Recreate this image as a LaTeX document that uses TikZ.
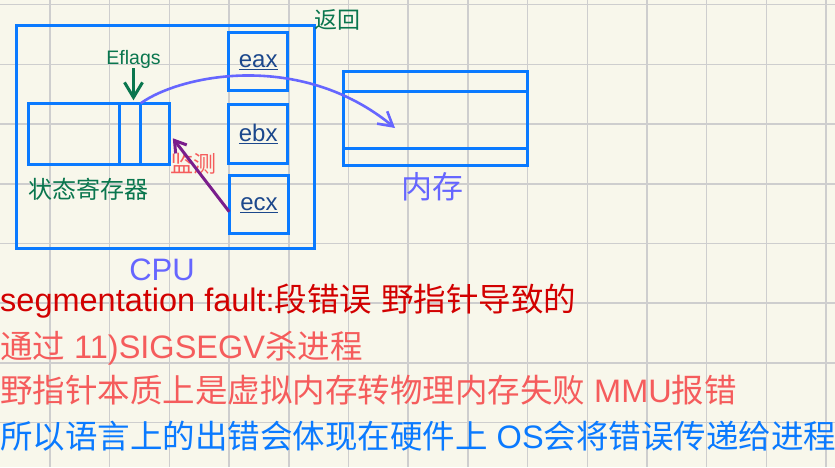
\documentclass[tikz,border=0pt]{standalone}
\usepackage{fontspec}
\setmainfont{Liberation Sans}
\newfontfamily\cjk{Noto Sans CJK SC}
\usetikzlibrary{arrows.meta}
\definecolor{paper}{RGB}{248,247,235}
\definecolor{gridgray}{RGB}{206,206,206}
\definecolor{boxblue}{RGB}{10,122,255}
\definecolor{regtext}{RGB}{28,72,140}
\definecolor{flaggreen}{RGB}{10,118,78}
\definecolor{memviolet}{RGB}{102,102,255}
\definecolor{watchred}{RGB}{245,92,92}
\definecolor{watchpurple}{RGB}{122,30,140}
\definecolor{faultred}{RGB}{210,0,0}
\begin{document}
\begin{tikzpicture}[x=1pt,y=-1pt,
  box/.style={draw=boxblue, line width=3pt, inner sep=0pt, outer sep=0pt},
  reg/.style={box, text=regtext, font=\fontsize{24}{24}\selectfont},
  txt/.style={inner sep=0pt, font=\fontsize{#1}{#1}\selectfont},
  gridline/.style={draw=gridgray, line width=1.5pt}]
\useasboundingbox (0,0) rectangle (835,467);
\fill[paper] (0,0) rectangle (835,467);
\foreach \i in {0,...,13} \draw[gridline] ({50+59.7*\i},0) -- ({50+59.7*\i},467);
\foreach \j in {0,...,7} \draw[gridline] (0,{4.7+59.7*\j}) -- (835,{4.7+59.7*\j});
% cpu and its registers
\node[box, minimum width=298, minimum height=223] (cpu) at (165,136.5) {};
\node[box, minimum width=91.3, minimum height=60.7] (regA) at (73.65,133.65) {};
\node[box, minimum width=21.4, minimum height=60.7] (regB) at (130,133.65) {};
\node[box, minimum width=28.6, minimum height=60.7] (regC) at (155,133.65) {};
\node[reg, minimum width=59, minimum height=58.3] (eax) at (258.2,61.8) {\underline{eax}};
\node[reg, minimum width=59, minimum height=59] (ebx) at (258.2,133.8) {\underline{ebx}};
\node[reg, minimum width=59.4, minimum height=58.3] (ecx) at (259,204.8) {\underline{ecx}};
% memory
\node[box, minimum width=184.4, minimum height=19.3] (memTop) at (435.5,81.35) {};
\node[box, minimum width=184.4, minimum height=57.3] (memMid) at (435.5,119.65) {};
\node[box, minimum width=184.4, minimum height=17.4] (memBot) at (435.5,157) {};
\coordinate (tip) at (395,128);
% labels
\node[txt=19.5, text=flaggreen, anchor=base] (eflags) at (133.5,64) {Eflags};
\node[txt=24, text=flaggreen, anchor=base west] (status) at (28,198) {\cjk 状态寄存器};
\node[txt=23, text=watchred, anchor=base west] (watch) at (170,172) {\cjk 监测};
\node[txt=31, text=memviolet, anchor=base west] (memlabel) at (401,198) {\cjk 内存};
\node[txt=23, text=flaggreen, anchor=base west] (back) at (314,28) {\cjk 返回};
\node[txt=31, text=memviolet, anchor=base] (cpulabel) at (162,280) {CPU};
% arrows
\draw[flaggreen, line width=3pt, -{Straight Barb[length=15pt,width=18pt]}, shorten >=3pt] (eflags.south) -- (eflags.south |- regB.north);
\draw[watchpurple, line width=3pt, -{Straight Barb[length=11pt,width=14pt]}] ([yshift=-7]ecx.west) -- ([xshift=3.5,yshift=-4.6]regC.east);
\draw[memviolet, line width=2.6pt, -{Straight Barb[length=14pt,width=16pt]}] (regB.north east) .. controls (180,75) and (300,50) .. (tip);
% notes
\node[txt=32.5, text=faultred, anchor=base west] (line1) at (0,311) {segmentation fault:{\cjk 段错误} {\cjk 野指针导致的}};
\node[txt=32.5, text=watchred, anchor=base west] (line2) at (0,358) {{\cjk 通过} 11)SIGSEGV{\cjk 杀进程}};
\node[txt=32.5, text=watchred, anchor=base west] (line3) at (0,402) {{\cjk 野指针本质上是虚拟内存转物理内存失败} MMU{\cjk 报错}};
\node[txt=32.5, text=boxblue, anchor=base west] (line4) at (0,448) {{\cjk 所以语言上的出错会体现在硬件上} OS{\cjk 会将错误传递给进程}};
\end{tikzpicture}
\end{document}
